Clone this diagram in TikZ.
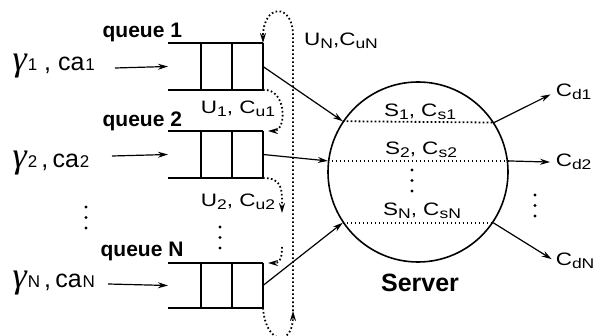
\documentclass[tikz,border=0pt]{standalone}
\usepackage{fontspec}
\setmainfont{Liberation Sans}
\newfontfamily\gfont{Liberation Serif}
\usetikzlibrary{arrows.meta}
% subscript: smaller, a little lowered
\newcommand{\sbs}[2][0.3ex]{\raisebox{-#1}{\fontsize{14}{14}\selectfont #2}}
% arrival rate symbol and its index
\newcommand{\biggam}{{\gfont\itshape\fontsize{36}{36}\selectfont γ}}
\newcommand{\asub}[1]{{\fontsize{17}{17}\selectfont\hspace{1pt}#1}}
\tikzset{
  lbl/.style={font=\fontsize{18}{20}\selectfont, xscale=1.25, inner sep=0pt, anchor=base},
  qname/.style={font=\bfseries\fontsize{21}{22}\selectfont, inner sep=0pt, anchor=base west},
  src/.style={font=\fontsize{25}{26}\selectfont, inner sep=0pt, anchor=base west},
  fb/.style={line width=1.8pt, dash pattern=on 1.6pt off 2.4pt},
  tip/.style={-{Stealth[length=10pt,width=6pt]}},
}
\begin{document}
\begin{tikzpicture}[x=1pt,y=-1pt,line width=1.2pt]
  \useasboundingbox (0,0) rectangle (599,336);
  % the N queues
  \foreach \t/\b/\n in {43/90/1,131/178/2,263/308/N}{
    \draw[line width=2pt] (168,\t) -- (263,\t) (168,\b) -- (263,\b);
    \draw[line width=2pt] (201,\t) -- (201,\b) (232,\t) -- (232,\b) (263,\t) -- (263,\b);
    \coordinate (q\n-in) at (168,{(\t+\b)/2});
    \coordinate (q\n-out) at (263,{(\t+\b)/2});
    \coordinate (q\n-tr) at (263,\t);
    \coordinate (q\n-br) at (263,\b);
  }
  \node[qname] (qn1) at (102,38) {queue 1};
  \node[qname] (qn2) at (102,127) {queue 2};
  \node[qname] (qnN) at (100,257) {queue N};
  % arrivals
  \node[src] (g1) at (12,71) {\biggam\asub{1}\ , ca\asub{1}};
  \node[src] (g2) at (12,168) {\biggam\asub{2}\,,\,ca\asub{2}};
  \node[src] (gN) at (12,288) {\biggam\asub{N}\,,\,ca\asub{N}};
  \coordinate (a1) at (115,68);
  \coordinate (a2) at (112,156);
  \coordinate (aN) at (108,284);
  \draw[tip] (a1) -- (q1-in);
  \draw[tip] (a2) -- (q2-in);
  \draw[tip] (aN) -- (qN-in);
  % server
  \node[draw, circle, minimum size=180pt, inner sep=0pt, line width=1.6pt] (srv) at (418,172) {};
  \draw[fb] (srv.146.3) -- (srv.33.7);
  \draw[fb] (srv.173) -- (srv.7);
  \draw[fb] (srv.214.5) -- (srv.-34.5);
  \node[lbl] (s1) at (420,117) {S\sbs{1}, C\sbs{s1}};
  \node[lbl] (s2) at (421,155) {S\sbs{2}, C\sbs{s2}};
  \node[lbl] (sN) at (422,216) {S\sbs{N}, C\sbs{sN}};
  \node[font=\bfseries\fontsize{25}{26}\selectfont, inner sep=0pt, anchor=base] (srvname) at (420,292) {Server};
  \draw[tip] (q1-out) -- (srv.146.3);
  \draw[tip] (q2-out) -- (srv.173);
  \draw[tip] (qN-out) -- (srv.214.5);
  % departures
  \node[lbl, anchor=base west] (cd1) at (555,97) {C\sbs{d1}};
  \node[lbl, anchor=base west] (cd2) at (555,167) {C\sbs{d2}};
  \node[lbl, anchor=base west] (cdN) at (555,266) {C\sbs{dN}};
  \draw[tip, shorten >=5pt] (srv.33.7) -- (cd1.west);
  \draw[tip, shorten >=5pt] (srv.7) -- (cd2.west);
  \draw[tip, shorten >=4pt] (srv.-34.5) -- (cdN.west);
  % vertical dots
  \foreach \x/\y in {86/207,220/227,412/170,535/195}
    \foreach \d in {0,10.5,21}
      \fill (\x,\y+\d) circle (1.6pt);
  % overflow between queues
  \node[lbl] (u1) at (238,114) {U\sbs{1}, C\sbs{u1}};
  \node[lbl] (u2) at (238,207) {U\sbs{2}, C\sbs{u2}};
  \node[lbl] (uN) at (341,46) {U\sbs{N},C\sbs{uN}};
  \coordinate (u2-end) at (282,213);
  \coordinate (u2-cont) at (282,247);
  \coordinate (uN-mid) at (293,311);
  \draw[fb, tip] (q1-br) .. controls (287,88) and (287,131) .. ([xshift=5pt]q2-tr);
  \draw[fb, tip] (q2-br) .. controls (283,178) and (282,190) .. (u2-end);
  \draw[fb, tip] (u2-cont) .. controls (282,262) and (278,263) .. ([xshift=5pt]qN-tr);
  \draw[fb, tip] (qN-br) .. controls (266,346) and (293,346) .. (uN-mid);
  \draw[fb, tip] (uN-mid) -- (293,35) .. controls (293,3) and (263,3) .. (q1-tr);
\end{tikzpicture}
\end{document}
